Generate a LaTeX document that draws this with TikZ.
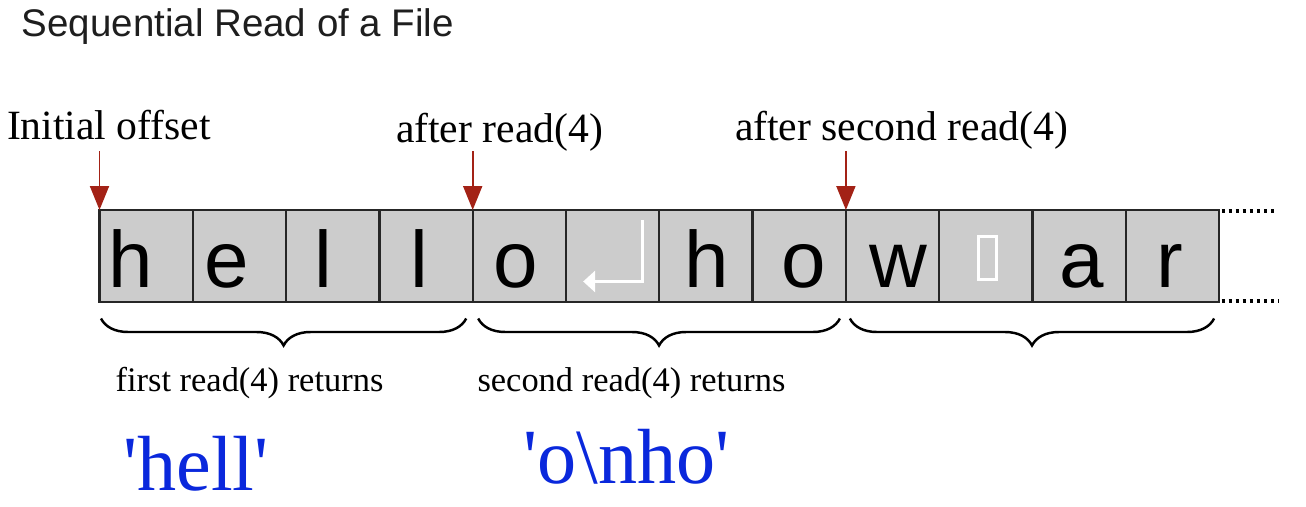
\documentclass[tikz,border=0pt]{standalone}
\usepackage{fontspec}
\setmainfont{Liberation Serif}
\newfontfamily\cellfont{Liberation Sans}
\usetikzlibrary{calc,arrows.meta,decorations.pathreplacing,positioning}
\definecolor{cellgray}{HTML}{CCCCCC}
\definecolor{ptrred}{RGB}{163,34,22}
\definecolor{valblue}{RGB}{10,40,220}
\definecolor{titlegray}{HTML}{1E1E1E}
\newcommand{\nudge}[2]{\hspace*{#1cm}#2\hspace*{-#1cm}}

\begin{document}
\begin{tikzpicture}[>={Triangle[length=0.48cm,width=0.38cm]},
  cell/.style={draw=black!85, line width=1.3pt, fill=cellgray, minimum width=1.866cm,
    minimum height=1.84cm, inner sep=0pt, outer sep=0pt, text height=1.26cm, text depth=0pt,
    font=\cellfont\fontsize{45.5}{46}\selectfont},
  ptr/.style={->, draw=ptrred, fill=ptrred, line width=1.1pt},
  lbl/.style={anchor=base, inner sep=0pt, font=\fontsize{23.7}{26}\selectfont},
  rlbl/.style={anchor=base, inner sep=0pt, font=\fontsize{19.6}{22}\selectfont},
  val/.style={anchor=base, inner sep=0pt, text=valblue, font=\fontsize{44.5}{48}\selectfont},
  brc/.style={decorate, decoration={brace, mirror, amplitude=0.54cm}, line width=1.4pt},
  dotline/.style={line width=2pt, dash pattern=on 2pt off 2pt}]
  \useasboundingbox (0,0) rectangle (26.12,10.12);

  \node[anchor=base west, inner sep=0pt, text=titlegray, font=\cellfont\fontsize{21.9}{24}\selectfont]
    (title) at (0.43,9.4) {Sequential Read of a File};

  % the file contents
  \node[cell] (c1) at (2.923,5.0) {\nudge{-0.30}{h}};
  \node[cell, right=0pt of c1] (c2) {\nudge{-0.26}{e}};
  \node[cell, right=0pt of c2] (c3) {\nudge{-0.18}{l}};
  \node[cell, right=0pt of c3] (c4) {\nudge{-0.14}{l}};
  \node[cell, right=0pt of c4] (c5) {\nudge{-0.08}{o}};
  \node[cell, right=0pt of c5] (c6) {};
  \node[cell, right=0pt of c6] (c7) {\nudge{0.02}{h}};
  \node[cell, right=0pt of c7] (c8) {\nudge{0.08}{o}};
  \node[cell, right=0pt of c8] (c9) {\nudge{0.12}{w}};
  \node[cell, right=0pt of c9] (c10) {};
  \node[cell, right=0pt of c10] (c11) {\nudge{0.06}{a}};
  \node[cell, right=0pt of c11] (c12) {\nudge{-0.06}{r}};

  \draw[white, line width=1.7pt, -{Triangle[length=0.24cm,width=0.42cm]}]
    ($(c6.center)+(0.60,0.72)$) -- ($(c6.center)+(0.60,-0.51)$) -- ($(c6.center)+(-0.59,-0.51)$);
  \draw[white, line width=1.7pt] ($(c10.center)+(-0.15,-0.47)$) rectangle ($(c10.center)+(0.21,0.39)$);

  \coordinate (e1) at ($(c12.north east)+(1.16,-0.02)$);
  \coordinate (e2) at ($(c12.south east)+(1.2,0.02)$);
  \draw[dotline] ($(c12.north east)+(0.05,-0.02)$) -- (e1);
  \draw[dotline] ($(c12.south east)+(0.05,0.02)$) -- (e2);

  % offsets
  \coordinate (p1) at ($(c1.north west)+(0,1.18)$);
  \coordinate (p2) at ($(c5.north west)+(0,1.18)$);
  \coordinate (p3) at ($(c9.north west)+(0,1.18)$);
  \draw[ptr] (p1) -- (c1.north west);
  \draw[ptr] (p2) -- (c5.north west);
  \draw[ptr] (p3) -- (c9.north west);
  \node[lbl] (l1) at (2.18,7.33) {Initial offset};
  \node[lbl] (l2) at (9.99,7.28) {after read(4)};
  \node[lbl] (l3) at (18.03,7.32) {after second read(4)};

  % what each read gives back
  \draw[brc] ($(c1.south west)+(0.03,-0.33)$) -- ($(c4.south east)+(-0.13,-0.33)$);
  \draw[brc] ($(c5.south west)+(0.11,-0.33)$) -- ($(c8.south east)+(-0.12,-0.33)$);
  \draw[brc] ($(c9.south west)+(0.08,-0.33)$) -- ($(c12.south east)+(-0.10,-0.33)$);
  \node[rlbl] (r1) at (4.99,2.3) {first read(4) returns};
  \node[rlbl] (r2) at (12.63,2.3) {second read(4) returns};
  \node[val] (v1) at (3.92,0.32) {\textquotesingle hell\textquotesingle};
  \node[val] (v2) at (12.53,0.45) {\textquotesingle o\textbackslash nho\textquotesingle};
\end{tikzpicture}
\end{document}
